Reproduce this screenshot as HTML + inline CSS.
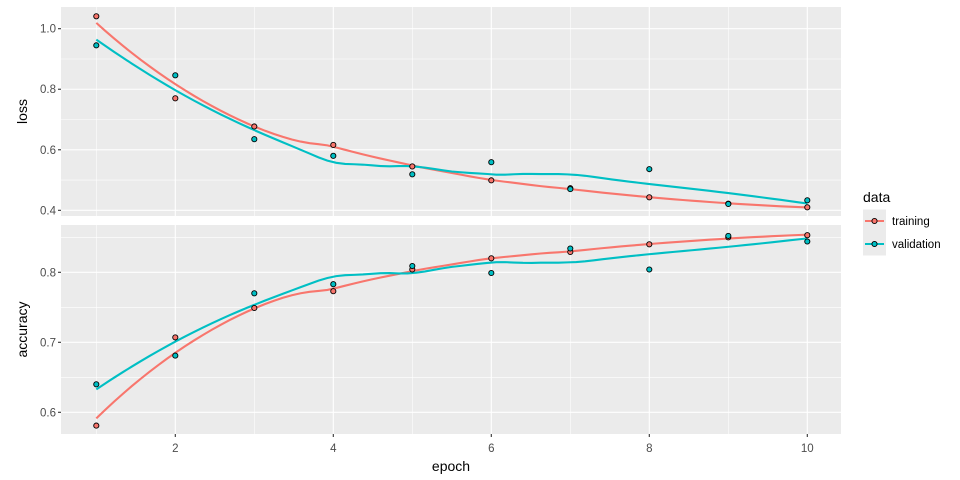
<!DOCTYPE html>
<html><head><meta charset="utf-8"><style>
body{margin:0;background:#fff;}
svg{display:block;font-family:"Liberation Sans",sans-serif;}
</style></head><body>
<svg id="chart" width="960" height="480"></svg>
<script>
const epochs=[1,2,3,4,5,6,7,8,9,10];
const lossTrain=[1.041,0.770,0.677,0.616,0.545,0.499,0.473,0.443,0.422,0.410];
const lossVal=[0.945,0.846,0.635,0.580,0.519,0.559,0.470,0.536,0.421,0.433];
const accTrain=[0.581,0.707,0.749,0.773,0.804,0.820,0.829,0.840,0.850,0.853];
const accVal=[0.640,0.681,0.770,0.783,0.809,0.799,0.834,0.804,0.852,0.844];
const xTicks=[2,4,6,8,10];
const lossTicks=[0.4,0.6,0.8,1.0];
const lossMinor=[0.5,0.7,0.9];
const accTicks=[0.6,0.7,0.8];
const accMinor=[0.65,0.75,0.85];
const seriesNames=["training","validation"];
const colors=["#F8766D","#00BFC4"];

const NS="http://www.w3.org/2000/svg";
const svg=document.getElementById('chart');
function el(tag,attrs,parent){const e=document.createElementNS(NS,tag);for(const k in attrs)e.setAttribute(k,attrs[k]);(parent||svg).appendChild(e);return e;}
const X0=61,X1=841;
const xs=e=>96.3+(e-1)*79;
const panels=[
 {name:"loss",top:7,bot:216,y:v=>28.7+(1.0-v)*302.7,ticks:lossTicks,minor:lossMinor,series:[lossTrain,lossVal],fmt:v=>v.toFixed(1)},
 {name:"accuracy",top:225,bot:434,y:v=>272.3+(0.8-v)*700,ticks:accTicks,minor:accMinor,series:[accTrain,accVal],fmt:v=>v.toFixed(1)}
];
function loess(xv,yv,x0){
 const n=xv.length,q=Math.floor(0.75*n);
 const d=xv.map(x=>Math.abs(x-x0));const h=[...d].sort((a,b)=>a-b)[q-1];
 const w=d.map(v=>{const u=v/h;return u<1?Math.pow(1-u*u*u,3):0;});
 // weighted quadratic regression
 let S=[[0,0,0],[0,0,0],[0,0,0]],B=[0,0,0];
 for(let i=0;i<n;i++){const t=xv[i]-x0;const p=[1,t,t*t];for(let a=0;a<3;a++){B[a]+=w[i]*p[a]*yv[i];for(let b=0;b<3;b++)S[a][b]+=w[i]*p[a]*p[b];}}
 // solve
 const M=S.map((r,i)=>[...r,B[i]]);
 for(let c=0;c<3;c++){let p=c;for(let r=c+1;r<3;r++)if(Math.abs(M[r][c])>Math.abs(M[p][c]))p=r;[M[c],M[p]]=[M[p],M[c]];
  for(let r=0;r<3;r++)if(r!==c){const f=M[r][c]/M[c][c];for(let k=c;k<4;k++)M[r][k]-=f*M[c][k];}}
 return M[0][3]/M[0][0];
}
panels.forEach(P=>{
 const g=el('g',{});
 
 
 el('rect',{x:X0,y:P.top,width:X1-X0,height:P.bot-P.top,fill:'#EBEBEB'},g);
 P.minor.forEach(v=>{const l=el('line',{x1:X0,x2:X1,y1:P.y(v),y2:P.y(v),stroke:'#fff','stroke-width':0.55},g);});
 epochs.forEach(e=>{if(e%2===1){const l=el('line',{x1:xs(e),x2:xs(e),y1:P.top,y2:P.bot,stroke:'#fff','stroke-width':0.55},g);}});
 P.ticks.forEach(v=>{const l=el('line',{x1:X0,x2:X1,y1:P.y(v),y2:P.y(v),stroke:'#fff','stroke-width':1.1},g);
  el('line',{x1:X0-3,x2:X0,y1:P.y(v),y2:P.y(v),stroke:'#333','stroke-width':1.1},g);
  const t=el('text',{x:56,y:P.y(v)+4,'text-anchor':'end','font-size':11.5,fill:'#4D4D4D'},g);t.textContent=P.fmt(v);});
 xTicks.forEach(e=>{const l=el('line',{x1:xs(e),x2:xs(e),y1:P.top,y2:P.bot,stroke:'#fff','stroke-width':1.1},g);});
 const yl=el('text',{x:0,y:0,'text-anchor':'middle','font-size':14,fill:'#000',transform:`translate(27,${(P.top+P.bot)/2}) rotate(-90)`},g);
 yl.textContent=P.name;
 P.series.forEach((s,si)=>{
  let d='';for(let i=0;i<=80;i++){const x=1+9*i/80;const v=loess(epochs,s,x);d+=(i?'L':'M')+xs(x).toFixed(2)+','+P.y(v).toFixed(2);}
  const p=el('path',{d:d,fill:'none',stroke:colors[si],'stroke-width':2.1},g);
  
 });
 P.series.forEach((s,si)=>{
  s.forEach((v,i)=>{const c=el('circle',{cx:xs(epochs[i]),cy:P.y(v),r:2.6,fill:colors[si],stroke:'#000','stroke-width':0.9},g);
   });
 });
});
xTicks.forEach(e=>{el('line',{x1:xs(e),x2:xs(e),y1:434,y2:437,stroke:'#333','stroke-width':1.1});
 const t=el('text',{x:xs(e),y:452,'text-anchor':'middle','font-size':11.5,fill:'#4D4D4D'});t.textContent=e;});
const xt=el('text',{x:451,y:471,'text-anchor':'middle','font-size':14,fill:'#000'});xt.textContent='epoch';

const lg=el('g',{});
const lt=el('text',{x:863,y:202,'font-size':14,fill:'#000'},lg);lt.textContent='data';
seriesNames.forEach((n,i)=>{const cy=221+i*23;
 const e=el('g',{},lg);
 el('rect',{x:863,y:cy-11.5,width:23,height:23,fill:'#EBEBEB'},e);
 el('line',{x1:865,x2:884,y1:cy,y2:cy,stroke:colors[i],'stroke-width':2.1},e);
 el('circle',{cx:874.5,cy:cy,r:2.6,fill:colors[i],stroke:'#000','stroke-width':0.9},e);
 const t=el('text',{x:892,y:cy+4,'font-size':11.5,fill:'#000'},e);t.textContent=n;});
</script>
</body></html>
